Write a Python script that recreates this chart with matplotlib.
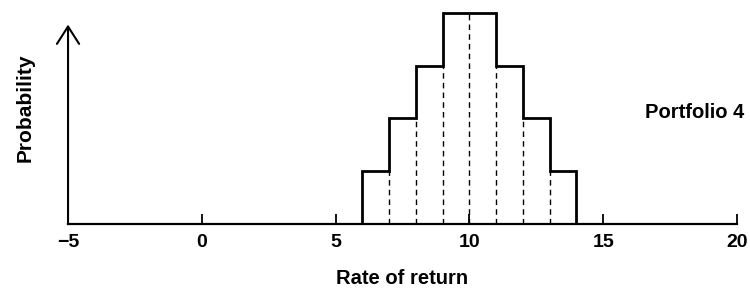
import numpy as np
import matplotlib.pyplot as plt

plt.rcParams['font.family'] = ['Liberation Sans', 'DejaVu Sans']

# rate of return bins (edges) and probabilities
edges = [6, 7, 8, 9, 10, 11, 12, 13, 14]
probs = [0.05, 0.10, 0.15, 0.20, 0.20, 0.15, 0.10, 0.05]
xticks = [-5, 0, 5, 10, 15, 20]
xtick_labels = ['\u22125', '0', '5', '10', '15', '20']

fig = plt.figure(figsize=(7.5, 2.9), dpi=100)
ax = fig.add_axes([0.0907, 0.2276, 0.892, 0.7276])

# histogram outline
ax.stairs(probs, edges, color='black', lw=2.0, baseline=0, clip_on=False)

# dashed dividers inside the bars
inner = np.array(edges[1:-1])
tops = np.minimum(probs[:-1], probs[1:])
ax.vlines(inner, 0, tops, colors='black', lw=1.0, linestyles=(0, (4, 3)), clip_on=False)

ax.set_xlim(-5, 20)
ax.set_ylim(0, 0.2)

# axes: only bottom spine, y axis drawn as an arrow
for s in ['top', 'right', 'left']:
    ax.spines[s].set_visible(False)
ax.spines['bottom'].set_linewidth(1.6)
ax.annotate('', xy=(-5, 0.189), xytext=(-5, 0),
            arrowprops=dict(arrowstyle='->,head_length=1.25,head_width=0.8',
                            lw=1.5, color='black', shrinkA=0, shrinkB=0),
            annotation_clip=False)

ax.set_yticks([])
ax.set_xticks(xticks)
ax.set_xticklabels(xtick_labels, fontsize=14, fontweight='bold')
ax.tick_params(axis='x', direction='in', length=7, width=1.3, pad=7)

ax.set_xlabel('Rate of return', fontsize=14.5, fontweight='bold', labelpad=13)
ax.set_ylabel('Probability', fontsize=15, fontweight='bold')
ax.yaxis.set_label_coords(-0.05, 0.55)

ax.text(16.56, 0.106, 'Portfolio 4', fontsize=14.5, fontweight='bold', va='center', ha='left')

fig.savefig('out.png', dpi=100)
